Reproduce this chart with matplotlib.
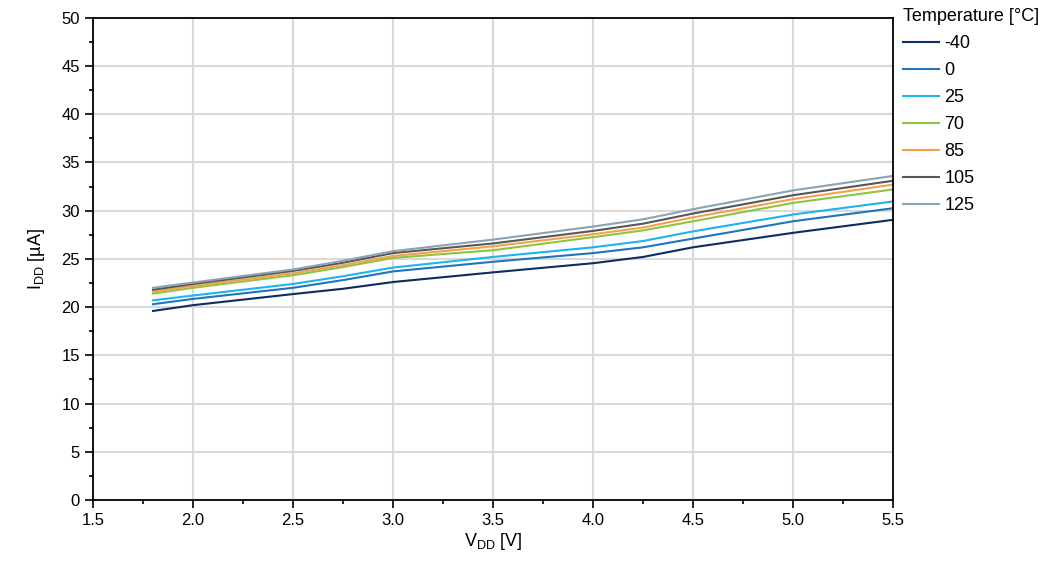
import matplotlib
matplotlib.use("Agg")
import matplotlib.pyplot as plt
from matplotlib.ticker import MultipleLocator

plt.rcParams['font.family'] = ['Liberation Sans', 'DejaVu Sans']
plt.rcParams['font.size'] = 12

# supply voltage [V]
vdd = [1.8, 2.0, 2.5, 2.75, 3.0, 3.5, 4.0, 4.25, 4.5, 5.0, 5.5]

# supply current [uA] per temperature
temps = ["-40", "0", "25", "70", "85", "105", "125"]
idd_m40 = [19.6, 20.2, 21.35, 21.9, 22.6, 23.6, 24.55, 25.2, 26.2, 27.7, 29.05]
idd_0 = [20.3, 20.85, 22.0, 22.8, 23.7, 24.7, 25.6, 26.2, 27.1, 28.9, 30.25]
idd_25 = [20.7, 21.2, 22.4, 23.2, 24.1, 25.2, 26.2, 26.85, 27.85, 29.6, 30.95]
idd_70 = [21.4, 22.0, 23.3, 24.15, 25.1, 25.9, 27.25, 27.95, 28.9, 30.8, 32.2]
idd_85 = [21.6, 22.2, 23.5, 24.35, 25.3, 26.3, 27.55, 28.25, 29.3, 31.2, 32.7]
idd_105 = [21.8, 22.4, 23.75, 24.6, 25.6, 26.6, 27.9, 28.65, 29.7, 31.6, 33.1]
idd_125 = [22.0, 22.55, 23.9, 24.8, 25.8, 27.0, 28.35, 29.1, 30.15, 32.1, 33.6]
series = [idd_m40, idd_0, idd_25, idd_70, idd_85, idd_105, idd_125]
colors = ["#0c2d5e", "#1f75bf", "#1cb4ec", "#8cc63f", "#f5a04a", "#575757", "#8ba3b3"]

fig = plt.figure(figsize=(10.52, 5.64), dpi=100)
ax = fig.add_axes([0.0884, 0.1135, 0.7605, 0.855])

for temp, vals, c in zip(temps, series, colors):
    ax.plot(vdd, vals, color=c, linewidth=1.5, label=temp)

ax.set_xlim(1.5, 5.5)
ax.set_ylim(0, 50)
ax.xaxis.set_major_locator(MultipleLocator(0.5))
ax.xaxis.set_minor_locator(MultipleLocator(0.25))
ax.yaxis.set_major_locator(MultipleLocator(5))
ax.yaxis.set_minor_locator(MultipleLocator(2.5))
ax.set_xticklabels([f"{v:.1f}" for v in ax.get_xticks()])
ax.tick_params(which='major', direction='out', length=6, width=1.2, color='black')
ax.tick_params(which='minor', direction='out', length=3, width=1.2, color='black')
ax.tick_params(top=False, right=False, which='both')
ax.grid(True, which='major', color='#d9d9d9', linewidth=1.5)
ax.set_axisbelow(True)
for s in ax.spines.values():
    s.set_linewidth(1.3)
    s.set_color('black')

ax.set_xlabel(r'V$_\mathregular{DD}$ [V]', fontsize=13, labelpad=2)
ax.set_ylabel(r'I$_\mathregular{DD}$ [µA]', fontsize=13, labelpad=10)

fig.legend(loc='upper left', bbox_to_anchor=(0.843, 1.014), frameon=False,
           title="Temperature [°C]", title_fontsize=13, fontsize=13,
           handlelength=2.0, handletextpad=0.3, labelspacing=0.55,
           alignment='left')

fig.savefig("out.png", dpi=100)
